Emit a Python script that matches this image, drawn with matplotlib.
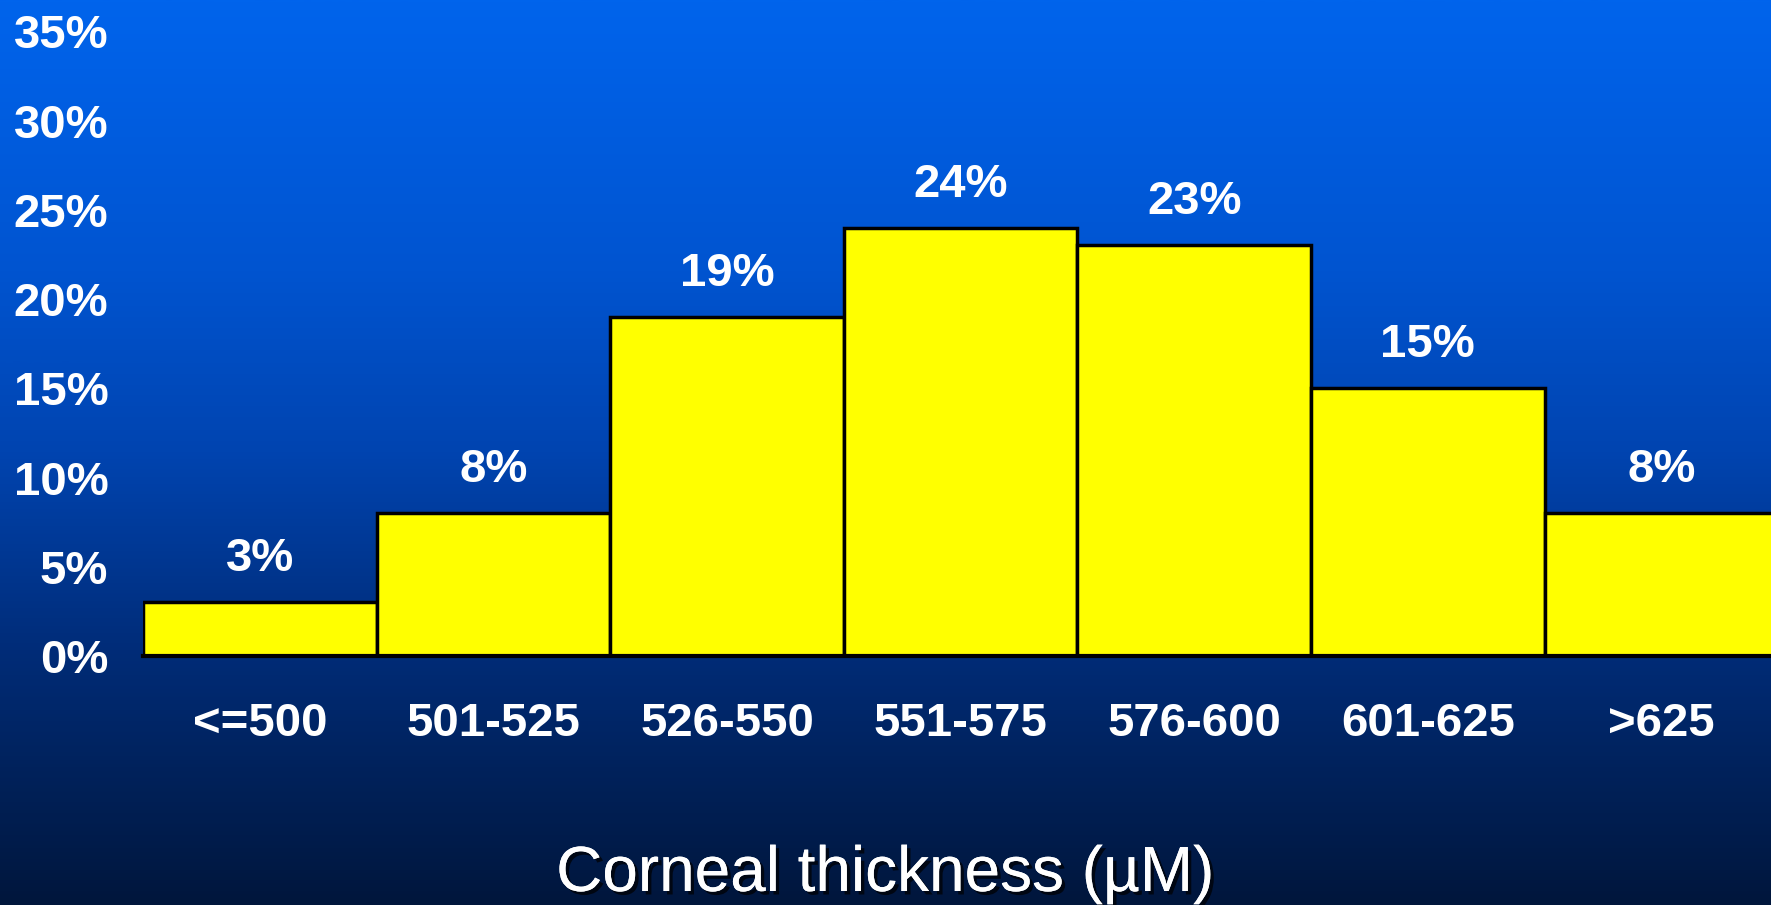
import matplotlib
matplotlib.use("Agg")
import matplotlib.pyplot as plt
import matplotlib.patheffects as pe
import numpy as np
from matplotlib.colors import LinearSegmentedColormap

categories = ["<=500", "501-525", "526-550", "551-575", "576-600", "601-625", ">625"]
percent = [3, 8, 19, 24, 23, 15, 8]
y_ticks = [0, 5, 10, 15, 20, 25, 30, 35]
x_title = "Corneal thickness (µM)"

W, H = 1771, 905
fig = plt.figure(figsize=(W / 100, H / 100), dpi=100)

# vertical blue background gradient
bg = fig.add_axes([0, 0, 1, 1], zorder=0)
grad = LinearSegmentedColormap.from_list(
    "bg",
    [(0.0, "#0064ec"), (0.3, "#0054d0"), (0.5, "#0044b0"),
     (0.72, "#002c78"), (0.85, "#00225c"), (1.0, "#00163c")],
)
bg.imshow(np.linspace(0, 1, 512).reshape(-1, 1), aspect="auto", cmap=grad,
          extent=[0, 1, 0, 1], origin="upper")
bg.set_axis_off()

left_px, bar_px, base_px, unit_px = 143, 233.6, 656, 17.85
ax = fig.add_axes([left_px / W, (H - base_px) / H,
                   7 * bar_px / W, 35 * unit_px / H], zorder=1)
ax.patch.set_alpha(0)

x = np.arange(len(categories))
ax.bar(x, percent, width=1.0, color="#ffff00", edgecolor="black",
       linewidth=2.5, align="center")
ax.set_xlim(-0.5, len(categories) - 0.5)
ax.set_ylim(0, 35)

lab_font = dict(family="Liberation Sans", weight="bold", size=34, color="white")
for xi, v in zip(x, percent):
    ax.annotate(f"{v}%", (xi, v), xytext=(0, 31), textcoords="offset points",
                ha="center", va="center", **lab_font)

ax.set_yticks(y_ticks)
ax.set_yticklabels([f"{t}%" for t in y_ticks])
ax.set_xticks(x)
ax.set_xticklabels(categories)
for lbl in ax.get_xticklabels() + ax.get_yticklabels():
    lbl.set_fontfamily("Liberation Sans")
    lbl.set_fontweight("bold")
    lbl.set_fontsize(34)
    lbl.set_color("white")
ax.tick_params(axis="y", length=0, pad=25)
ax.tick_params(axis="x", length=0, pad=33)

for side in ("top", "right", "left"):
    ax.spines[side].set_visible(False)
ax.spines["bottom"].set_color("black")
ax.spines["bottom"].set_linewidth(3)

fig.text(885 / W, 1 - 874 / H, x_title, ha="center", va="center",
         family="Liberation Sans", size=46, color="white",
         path_effects=[pe.withSimplePatchShadow(offset=(2.5, -2.5),
                                                shadow_rgbFace="black", alpha=0.7),
                       pe.Normal()])

fig.savefig("out.png", dpi=100)
